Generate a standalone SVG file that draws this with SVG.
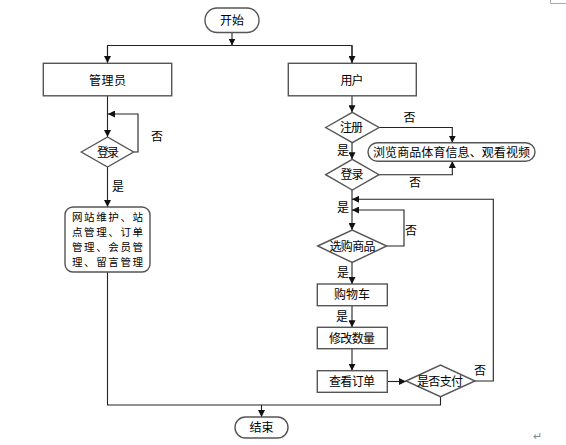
<svg xmlns="http://www.w3.org/2000/svg" width="566" height="445" viewBox="0 0 566 445">
<defs>
<marker id="ar" viewBox="0 0 8 8" refX="8" refY="4" markerWidth="7" markerHeight="7" markerUnits="userSpaceOnUse" orient="auto">
<path d="M0,0 L8,4 L0,8 z" fill="#111"/>
</marker>
</defs>
<style>
.s{fill:#fff;stroke:#555;stroke-width:1.4}
.c{fill:none;stroke:#222;stroke-width:1.1}
.a{marker-end:url(#ar)}
text{font-family:"Noto Sans CJK SC","Noto Sans",sans-serif;font-size:12px;fill:#000}
.m{text-anchor:middle}
.w{font-size:10.5px}
</style>
<rect width="566" height="445" fill="#fff"/>
<path d="M550.5,0 V3.5 H566" fill="none" stroke="#aaa" stroke-width="1"/>
<text x="537" y="440" style="font-size:11px;fill:#888" class="m">↵</text>

<g id="connectors">
<path class="c a" d="M232,32.5 V45.5"/>
<path class="c" d="M107.5,63 V45.5 H352 V63"/>
<path class="c a" d="M107.5,45.5 V63"/>
<path class="c a" d="M352,45.5 V63"/>
<path class="c a" d="M107.5,96 V137"/>
<path class="c a" d="M133.5,152 H138 V114 H108"/>
<path class="c a" d="M107.5,167 V207"/>
<path class="c" d="M107.5,272 V405 H440.5 V396.7"/>
<path class="c a" d="M261.5,405 V417"/>
<path class="c a" d="M352,96 V112.3"/>
<path class="c a" d="M379,127.5 H452.3 V142.7"/>
<path class="c a" d="M352,142.7 V159.3"/>
<path class="c a" d="M379,174.7 H452.3 V161"/>
<path class="c a" d="M352,190 V230"/>
<path class="c a" d="M386.7,246 H404 V210 H352"/>
<path class="c a" d="M475,381 H493.3 V199.3 H352"/>
<path class="c a" d="M352,262.5 V284"/>
<path class="c a" d="M352,305.7 V327.3"/>
<path class="c a" d="M352,348.7 V370.7"/>
<path class="c a" d="M387.3,381.5 H406"/>
</g>

<g id="start"><rect class="s" x="205" y="8" width="54" height="24.5" rx="12"/><text class="m" x="232" y="24.5" textLength="24">开始</text></g>
<g id="admin"><rect class="s" x="43.3" y="63.3" width="128.4" height="32.5"/><text class="m" x="107.5" y="84.5" textLength="37">管理员</text></g>
<g id="user"><rect class="s" x="288.3" y="63.3" width="128" height="32.5"/><text class="m" x="352" y="84.5" textLength="23">用户</text></g>
<g id="adminLogin"><path class="s" d="M81.3,152 L107.5,137 L133.5,152 L107.5,167 Z"/><text class="m" x="108" y="156.5" textLength="22">登录</text></g>
<g id="adminOps"><rect class="s" x="65" y="207" width="85" height="65" rx="8"/>
<text class="w"><tspan x="72" y="220.8" textLength="71">网站维护、站</tspan><tspan x="72" y="236" textLength="71">点管理、订单</tspan><tspan x="72" y="251.2" textLength="71">管理、会员管</tspan><tspan x="72" y="266.4" textLength="71">理、留言管理</tspan></text></g>
<g id="register"><path class="s" d="M325.7,127.5 L352.3,112.3 L379,127.5 L352.3,142.7 Z"/><text class="m" x="351.5" y="131.8" textLength="23">注册</text></g>
<g id="browse"><rect class="s" x="368" y="142.7" width="167" height="18.6" rx="9.3"/><text class="m" x="451.5" y="156.5" textLength="157">浏览商品体育信息、观看视频</text></g>
<g id="userLogin"><path class="s" d="M325.7,174.7 L352.3,159.3 L379,174.7 L352.3,190 Z"/><text class="m" x="352" y="179" textLength="23">登录</text></g>
<g id="select"><path class="s" d="M317.7,246 L352.2,230 L386.7,246 L352.2,262.5 Z"/><text class="m" x="352.5" y="250.5" textLength="46">选购商品</text></g>
<g id="cart"><rect class="s" x="317.3" y="284" width="70" height="21.7"/><text class="m" x="352" y="298.8" textLength="36">购物车</text></g>
<g id="modify"><rect class="s" x="317.3" y="327.3" width="70" height="21.4"/><text class="m" x="352" y="342.6" textLength="46">修改数量</text></g>
<g id="order"><rect class="s" x="317.3" y="370.7" width="70" height="21.6"/><text class="m" x="352" y="386" textLength="46">查看订单</text></g>
<g id="pay"><path class="s" d="M406,381 L440.5,365 L475,381 L440.5,396.7 Z"/><text class="m" x="440" y="385.5" textLength="46">是否支付</text></g>
<g id="end"><rect class="s" x="235" y="417" width="53" height="21" rx="10.5"/><text class="m" x="261.5" y="432" textLength="24">结束</text></g>

<g id="labels">
<text class="m" x="157" y="140.5">否</text>
<text class="m" x="118" y="190.5">是</text>
<text class="m" x="409.5" y="121.5">否</text>
<text class="m" x="343" y="154.5">是</text>
<text class="m" x="415" y="187">否</text>
<text class="m" x="343" y="211.5">是</text>
<text class="m" x="411" y="235">否</text>
<text class="m" x="343" y="277">是</text>
<text class="m" x="342" y="320.5">是</text>
<text class="m" x="480" y="374.5">否</text>
</g>
</svg>
